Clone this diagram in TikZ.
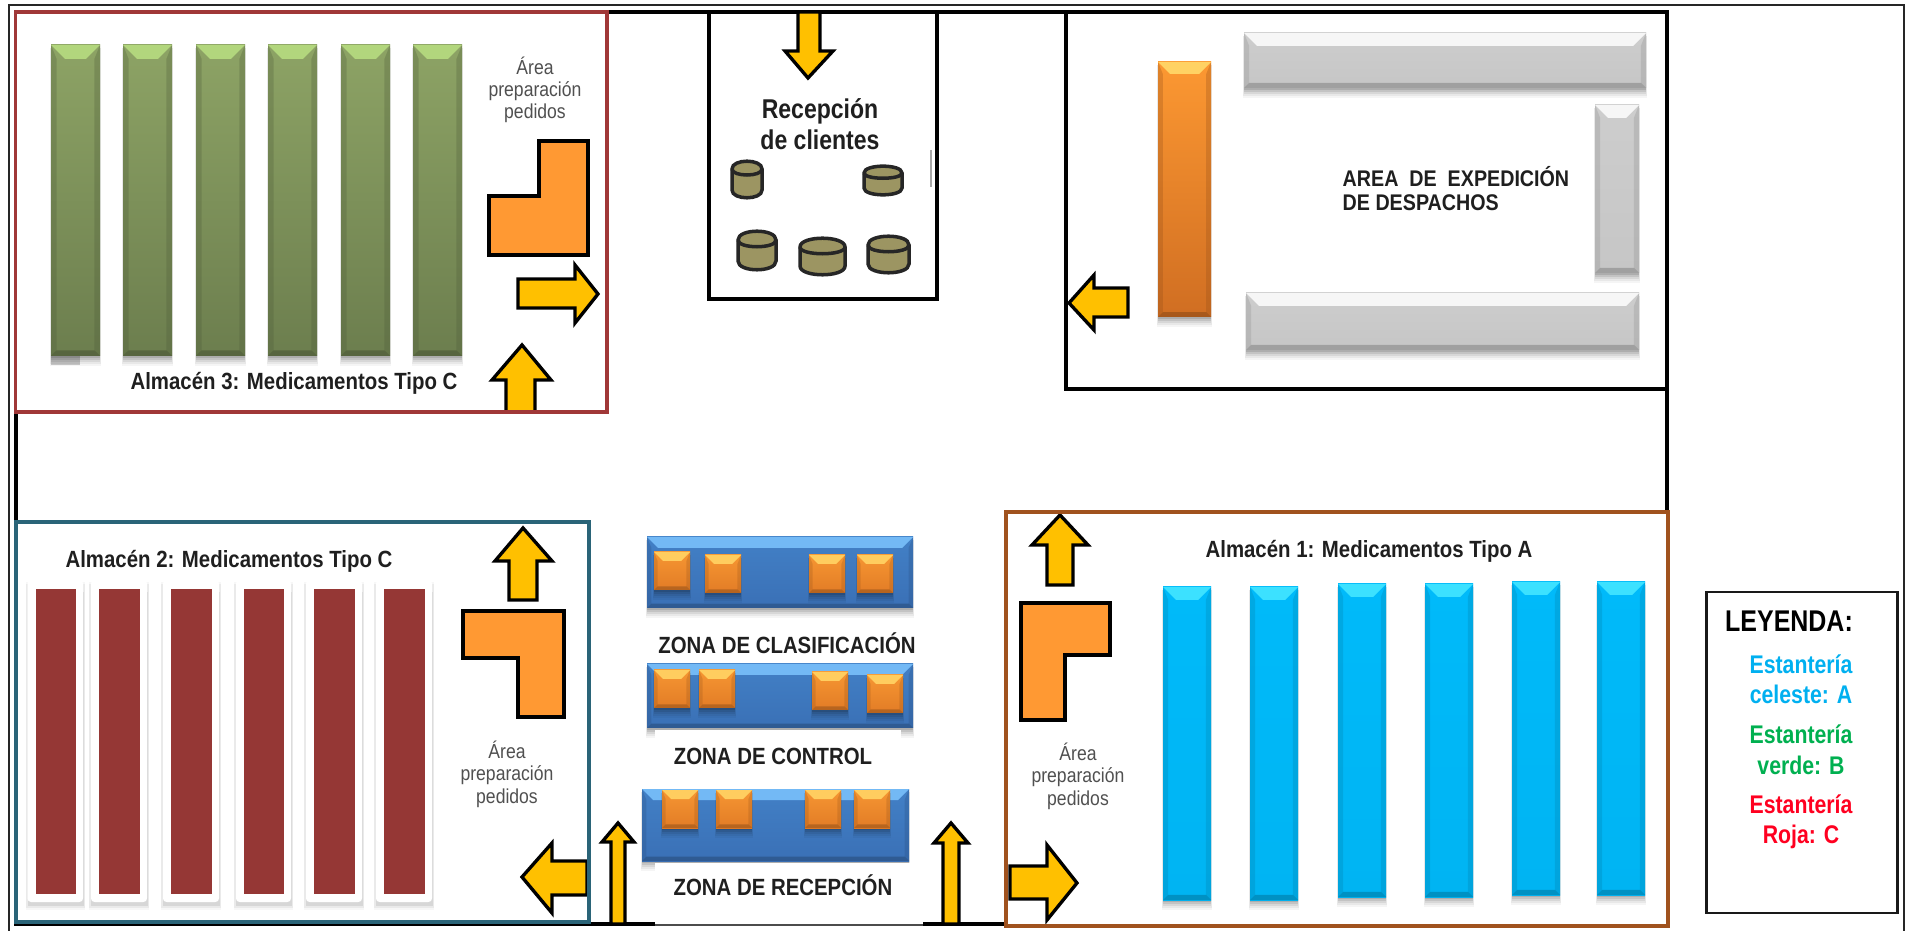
\documentclass[tikz,border=0pt]{standalone}
\usepackage{fontspec}
\setmainfont{Liberation Sans}
\definecolor{arrowgold}{HTML}{FFC000}
\definecolor{lorange}{HTML}{FF9933}
\definecolor{cylfill}{HTML}{9C9562}
\definecolor{redbox}{HTML}{A03838}
\definecolor{tealbox}{HTML}{2A6478}
\definecolor{brownbox}{HTML}{A0521E}
\definecolor{shelfred}{HTML}{953735}
\definecolor{txtgray}{HTML}{505050}
\definecolor{gTop}{RGB}{141,163,101}
\definecolor{gBot}{RGB}{108,126,78}
\definecolor{gHi}{RGB}{178,214,125}
\definecolor{bTop}{RGB}{0,186,250}
\definecolor{bBot}{RGB}{0,180,242}
\definecolor{bHi}{RGB}{60,225,255}
\definecolor{yTop}{RGB}{205,205,205}
\definecolor{yBot}{RGB}{198,198,198}
\definecolor{yHi}{RGB}{246,246,246}
\definecolor{oTop}{RGB}{246,150,50}
\definecolor{oBot}{RGB}{226,124,38}
\definecolor{oHi}{RGB}{255,205,95}
\definecolor{zTop}{RGB}{66,128,198}
\definecolor{zBot}{RGB}{58,112,182}
\definecolor{zHi}{RGB}{115,185,245}
\definecolor{vTop}{RGB}{252,152,50}
\definecolor{vBot}{RGB}{208,110,34}
\definecolor{vHi}{RGB}{255,210,100}
\definecolor{legA}{RGB}{0,176,240}
\definecolor{legB}{RGB}{0,176,80}
\definecolor{legC}{RGB}{255,0,32}
\tikzset{
  x=0.01cm,y=-0.01cm,
  wall/.style={draw=black,line width=1.1pt},
  thinwall/.style={draw=black!85,line width=0.65pt},
  flow/.style={draw=black,fill=arrowgold,line width=0.95pt,line join=miter},
  lshape/.style={draw=black,fill=lorange,line width=1.05pt,line join=miter},
  cyl/.style={draw=black!85,fill=cylfill,line width=1pt},
  bold58/.style={font=\fontsize{5.8}{7}\selectfont\bfseries,inner sep=0pt,yscale=1.15,transform shape,text=black!88},
  areatext/.style={font=\fontsize{5}{6}\selectfont,inner sep=0pt,yscale=1.15,transform shape,text=txtgray},
  recep/.style={font=\fontsize{6.55}{8}\selectfont\bfseries,inner sep=0pt,yscale=1.18,transform shape,text=black!88},
  legend/.style={font=\fontsize{6.05}{8}\selectfont\bfseries,inner sep=0pt,yscale=1.2,transform shape},
}
\newcommand{\softshadow}[4]{%
  \fill[black,opacity=.04] (#1-1,#2+3) rectangle (#3+1,#4+10);
  \fill[black,opacity=.05] (#1-1,#2+3) rectangle (#3+1,#4+8);
  \fill[black,opacity=.07] (#1,#2+3) rectangle (#3,#4+6);
  \fill[black,opacity=.09] (#1,#2+3) rectangle (#3,#4+4);
  \fill[black,opacity=.11] (#1,#2+3) rectangle (#3,#4+2);
}
% x1 y1 x2 y2 bevel top-colour bottom-colour highlight
\newcommand{\bevelbox}[8]{%
  \softshadow{#1}{#2}{#3}{#4}
  \shade[top color=#6,bottom color=#7] (#1,#2) rectangle (#3,#4);
  \fill[#7!70!black,opacity=.28] (#1,#2) -- (#1+#5*.4,#2+#5) -- (#1+#5*.4,#4-#5*.4) -- (#1,#4) -- cycle;
  \fill[#7!70!black,opacity=.28] (#3,#2) -- (#3-#5*.4,#2+#5) -- (#3-#5*.4,#4-#5*.4) -- (#3,#4) -- cycle;
  \fill[#7!65!black,opacity=.55] (#1,#4) -- (#1+#5*.4,#4-#5*.4) -- (#3-#5*.4,#4-#5*.4) -- (#3,#4) -- cycle;
  \fill[#8] (#1,#2) -- (#3,#2) -- (#3-#5,#2+#5) -- (#1+#5,#2+#5) -- cycle;
}
\newcommand{\greenshelf}[1]{\bevelbox{#1}{45}{#1+49}{356}{14}{gTop}{gBot}{gHi}}
\newcommand{\blueshelf}[2]{\bevelbox{#1}{#2}{#1+48}{#2+313}{13}{bTop}{bBot}{bHi}}
\newcommand{\grayshelf}[4]{\bevelbox{#1}{#2}{#3}{#4}{13}{yTop}{yBot}{yHi}}
\newcommand{\redshelf}[2]{%
  \fill[black,opacity=.03] (#1-10,582) rectangle (#2+9,910);
  \fill[black,opacity=.05] (#1-10,584) rectangle (#2+9,908);
  \fill[black,opacity=.08] (#1-8,592) rectangle (#2+8,906);
  \fill[white,rounded corners=1pt] (#1-8,580) rectangle (#2+7,902);
  \fill[shelfred] (#1,589) rectangle (#2,894);
}
\newcommand{\orsq}[2]{\bevelbox{#1}{#2}{#1+36}{#2+38}{9}{oTop}{oBot}{oHi}}
\newcommand{\bluebar}[4]{\bevelbox{#1}{#2}{#3}{#4}{11}{zTop}{zBot}{zHi}}
\newcommand{\cylinder}[5]{%
  \draw[cyl] (#1,#2+#5) .. controls (#1,#2-#5*.3) and (#3,#2-#5*.3) .. (#3,#2+#5) -- (#3,#4-#5) .. controls (#3,#4+#5*.3) and (#1,#4+#5*.3) .. (#1,#4-#5) -- cycle;
  \draw[cyl,fill=none] (#1,#2+#5) .. controls (#1,#2+#5*2) and (#3,#2+#5*2) .. (#3,#2+#5);
}
\begin{document}
\begin{tikzpicture}
\useasboundingbox (0,0) rectangle (1906,931);
\fill[white] (0,0) rectangle (1906,931);

% outer frame
\draw[thinwall] (9,931) -- (9,5) -- (1904,5) -- (1904,931);

% building walls
\draw[wall] (607,12) -- (1667,12) -- (1667,512);
\draw[wall] (16,412) -- (16,522);
\draw[wall] (14,924) -- (589,924);
\draw[wall] (589,924) -- (655,924);
\draw[wall] (923,924) -- (1006,924);
\draw[draw=black!70,line width=0.4pt] (655,925) -- (923,925);

% ---- Almacen 3
\foreach \sx in {51,123,196,268,341,413} {\greenshelf{\sx}}
\fill[black,opacity=.2] (51,356) rectangle (80,365);
\node[areatext] (a3t1) at (535,66) {Área};
\node[areatext] (a3t2) at (535,91) {preparación};
\node[areatext] (a3t3) at (535,113) {pedidos};
\draw[lshape] (539,141) -- (588,141) -- (588,255) -- (489,255) -- (489,196) -- (539,196) -- cycle;
\draw[flow] (518,279) -- (575,279) -- (575,265) -- (598,294) -- (575,323) -- (575,308) -- (518,308) -- cycle;
\draw[flow] (522,345) -- (551,380) -- (535,380) -- (535,412) -- (506,412) -- (506,380) -- (492,380) -- cycle;
\node[bold58] (a3) at (294,383) {Almacén 3: Medicamentos Tipo C};

% ---- Recepcion de clientes
\draw[wall] (709,12) -- (709,299) -- (937,299) -- (937,12);
\draw[draw=black!35,line width=0.4pt] (931,150) -- (931,187);
\draw[flow] (798,12) -- (820,12) -- (820,51) -- (833,51) -- (808,78) -- (785,51) -- (798,51) -- cycle;
\node[recep] (rc1) at (820,111) {Recepción};
\node[recep] (rc2) at (820,140) {de clientes};
\cylinder{732}{161}{762}{198}{8}
\cylinder{864}{166}{902}{195}{7}
\cylinder{738}{231}{776}{270}{9}
\cylinder{800}{238}{845}{275}{9}
\cylinder{868}{236}{909}{273}{9}

% ---- Expedicion
\draw[wall] (1066,12) -- (1066,389) -- (1667,389);
\bevelbox{1158}{62}{1211}{317}{12}{vTop}{vBot}{vHi}
\grayshelf{1244}{33}{1646}{88}
\grayshelf{1595}{105}{1639}{273}
\grayshelf{1246}{293}{1639}{350}
\draw[flow] (1069,303) -- (1094,275) -- (1094,288) -- (1128,288) -- (1128,317) -- (1094,317) -- (1094,330) -- cycle;
\node[bold58,anchor=west,font=\fontsize{5.6}{7}\selectfont\bfseries] (ex1) at (1342,177) {AREA\ \ DE\ \ EXPEDICIÓN};
\node[bold58,anchor=west,font=\fontsize{5.6}{7}\selectfont\bfseries] (ex2) at (1342,203) {DE DESPACHOS};

% ---- Almacen 2
\redshelf{35.5}{76}
\redshelf{99}{140}
\redshelf{171}{212}
\redshelf{244}{284}
\redshelf{314}{355}
\redshelf{384}{425}
\node[bold58] (a2) at (229,561) {Almacén 2: Medicamentos Tipo C};
\draw[lshape] (463,611) -- (564,611) -- (564,717) -- (518,717) -- (518,658) -- (463,658) -- cycle;
\draw[flow] (523,528) -- (552,561) -- (537,561) -- (537,600) -- (509,600) -- (509,561) -- (495,561) -- cycle;
\node[areatext] (a2t1) at (507,750) {Área};
\node[areatext] (a2t2) at (507,775) {preparación};
\node[areatext] (a2t3) at (507,798) {pedidos};
\draw[flow] (522,877) -- (552,843) -- (552,861) -- (587,861) -- (587,895) -- (552,895) -- (552,913) -- cycle;

% ---- Zonas
\bluebar{647}{537}{913}{608}
\orsq{654}{552}\orsq{705}{555}\orsq{809}{555}\orsq{857}{555}
\node[bold58] (z1) at (787,643) {ZONA DE CLASIFICACIÓN};
\bluebar{647}{664}{913}{728}
\fill[white] (655,730) rectangle (901,745);
\orsq{654}{670}\orsq{699}{670}\orsq{812}{672}\orsq{867}{675}
\node[bold58] (z2) at (773,756) {ZONA DE CONTROL};
\bluebar{642}{789}{909}{861}
\fill[white] (655,863) rectangle (915,875);
\orsq{662}{790}\orsq{716}{790}\orsq{805}{790}\orsq{854}{790}
\node[bold58] (z3) at (783,885) {ZONA DE RECEPCIÓN};
\draw[flow] (618,823) -- (634,842) -- (625,842) -- (625,924) -- (611,924) -- (611,842) -- (602,842) -- cycle;
\draw[flow] (951,823) -- (968,843) -- (959,843) -- (959,924) -- (943,924) -- (943,843) -- (934,843) -- cycle;

% ---- Almacen 1
\blueshelf{1163}{587}
\blueshelf{1250}{587}
\blueshelf{1338}{584}
\blueshelf{1425}{584}
\blueshelf{1512}{582}
\blueshelf{1597}{582}
\node[bold58] (a1) at (1369,551) {Almacén 1: Medicamentos Tipo A};
\draw[lshape] (1021,603) -- (1110,603) -- (1110,655) -- (1065,655) -- (1065,720) -- (1021,720) -- cycle;
\draw[flow] (1060,515) -- (1088,545) -- (1073,545) -- (1073,585) -- (1047,585) -- (1047,545) -- (1032,545) -- cycle;
\node[areatext] (a1t1) at (1078,752) {Área};
\node[areatext] (a1t2) at (1078,777) {preparación};
\node[areatext] (a1t3) at (1078,800) {pedidos};
\draw[flow] (1010,866) -- (1047,866) -- (1047,845) -- (1077,883) -- (1047,920) -- (1047,899) -- (1010,899) -- cycle;

% coloured room outlines
\draw[draw=redbox,line width=1.1pt] (15.5,12) rectangle (607,412);
\draw[draw=tealbox,line width=1.1pt] (16,522) rectangle (589,922);
\draw[draw=brownbox,line width=1.1pt] (1006,512) rectangle (1668,926);

% ---- Leyenda
\draw[draw=black!90,line width=0.85pt] (1706,592) rectangle (1897,913);
\node[font=\fontsize{7.1}{9}\selectfont\bfseries,inner sep=0pt,yscale=1.2,transform shape] (leg) at (1789,621) {LEYENDA:};
\node[legend,text=legA] (l1) at (1801,664) {Estantería};
\node[legend,text=legA] (l2) at (1801,694) {celeste: A};
\node[legend,text=legB] (l3) at (1801,734) {Estantería};
\node[legend,text=legB] (l4) at (1801,765) {verde: B};
\node[legend,text=legC] (l5) at (1801,804) {Estantería};
\node[legend,text=legC] (l6) at (1801,837) {Roja: C};
\end{tikzpicture}
\end{document}
